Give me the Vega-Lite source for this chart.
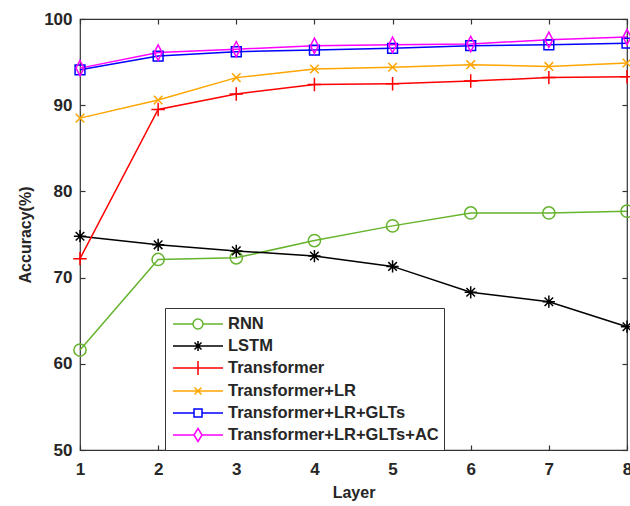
{
  "$schema": "https://vega.github.io/schema/vega-lite/v6.json",
  "width": 547,
  "height": 431,
  "autosize": {"type": "none"},
  "padding": {"left": 80, "top": 19, "right": 3, "bottom": 56},
  "config": {
    "view": {"stroke": "#333333", "strokeWidth": 1.2},
    "font": "Liberation Sans",
    "axis": {
      "grid": false,
      "domain": false,
      "tickColor": "#333333",
      "tickWidth": 1.2,
      "labelFont": "Liberation Sans",
      "labelFontWeight": "bold",
      "labelFontSize": 17,
      "labelColor": "#262626",
      "titleFont": "Liberation Sans",
      "titleFontWeight": "bold",
      "titleFontSize": 16,
      "titleColor": "#262626"
    }
  },
  "data": {
    "values": [
      {"Layer": 1, "Model": "RNN", "Acc": 61.6},
      {"Layer": 2, "Model": "RNN", "Acc": 72.1},
      {"Layer": 3, "Model": "RNN", "Acc": 72.3},
      {"Layer": 4, "Model": "RNN", "Acc": 74.3},
      {"Layer": 5, "Model": "RNN", "Acc": 76.0},
      {"Layer": 6, "Model": "RNN", "Acc": 77.5},
      {"Layer": 7, "Model": "RNN", "Acc": 77.5},
      {"Layer": 8, "Model": "RNN", "Acc": 77.7},
      {"Layer": 1, "Model": "LSTM", "Acc": 74.8},
      {"Layer": 2, "Model": "LSTM", "Acc": 73.8},
      {"Layer": 3, "Model": "LSTM", "Acc": 73.1},
      {"Layer": 4, "Model": "LSTM", "Acc": 72.5},
      {"Layer": 5, "Model": "LSTM", "Acc": 71.3},
      {"Layer": 6, "Model": "LSTM", "Acc": 68.3},
      {"Layer": 7, "Model": "LSTM", "Acc": 67.2},
      {"Layer": 8, "Model": "LSTM", "Acc": 64.3},
      {"Layer": 1, "Model": "Transformer", "Acc": 72.2},
      {"Layer": 2, "Model": "Transformer", "Acc": 89.5},
      {"Layer": 3, "Model": "Transformer", "Acc": 91.3},
      {"Layer": 4, "Model": "Transformer", "Acc": 92.4},
      {"Layer": 5, "Model": "Transformer", "Acc": 92.5},
      {"Layer": 6, "Model": "Transformer", "Acc": 92.8},
      {"Layer": 7, "Model": "Transformer", "Acc": 93.2},
      {"Layer": 8, "Model": "Transformer", "Acc": 93.3},
      {"Layer": 1, "Model": "Transformer+LR", "Acc": 88.5},
      {"Layer": 2, "Model": "Transformer+LR", "Acc": 90.6},
      {"Layer": 3, "Model": "Transformer+LR", "Acc": 93.2},
      {"Layer": 4, "Model": "Transformer+LR", "Acc": 94.2},
      {"Layer": 5, "Model": "Transformer+LR", "Acc": 94.4},
      {"Layer": 6, "Model": "Transformer+LR", "Acc": 94.7},
      {"Layer": 7, "Model": "Transformer+LR", "Acc": 94.5},
      {"Layer": 8, "Model": "Transformer+LR", "Acc": 94.9},
      {"Layer": 1, "Model": "Transformer+LR+GLTs", "Acc": 94.1},
      {"Layer": 2, "Model": "Transformer+LR+GLTs", "Acc": 95.7},
      {"Layer": 3, "Model": "Transformer+LR+GLTs", "Acc": 96.2},
      {"Layer": 4, "Model": "Transformer+LR+GLTs", "Acc": 96.4},
      {"Layer": 5, "Model": "Transformer+LR+GLTs", "Acc": 96.6},
      {"Layer": 6, "Model": "Transformer+LR+GLTs", "Acc": 96.9},
      {"Layer": 7, "Model": "Transformer+LR+GLTs", "Acc": 97.0},
      {"Layer": 8, "Model": "Transformer+LR+GLTs", "Acc": 97.2},
      {"Layer": 1, "Model": "Transformer+LR+GLTs+AC", "Acc": 94.3},
      {"Layer": 2, "Model": "Transformer+LR+GLTs+AC", "Acc": 96.1},
      {"Layer": 3, "Model": "Transformer+LR+GLTs+AC", "Acc": 96.5},
      {"Layer": 4, "Model": "Transformer+LR+GLTs+AC", "Acc": 96.9},
      {"Layer": 5, "Model": "Transformer+LR+GLTs+AC", "Acc": 97.0},
      {"Layer": 6, "Model": "Transformer+LR+GLTs+AC", "Acc": 97.1},
      {"Layer": 7, "Model": "Transformer+LR+GLTs+AC", "Acc": 97.6},
      {"Layer": 8, "Model": "Transformer+LR+GLTs+AC", "Acc": 97.9}
    ]
  },
  "resolve": {"axis": {"x": "independent", "y": "independent"}},
  "layer": [
    {
      "mark": {"type": "line", "strokeWidth": 1.5, "clip": false},
      "encoding": {
        "x": {
          "field": "Layer", "type": "quantitative",
          "scale": {"domain": [1, 8], "nice": false, "zero": false},
          "axis": {"orient": "bottom", "values": [1, 2, 3, 4, 5, 6, 7, 8], "tickSize": -5, "labelPadding": 16, "title": "Layer", "titlePadding": 7, "labelFlush": false}
        },
        "y": {
          "field": "Acc", "type": "quantitative",
          "scale": {"domain": [50, 100], "nice": false, "zero": false},
          "axis": {"orient": "left", "values": [50, 60, 70, 80, 90, 100], "tickSize": -5, "labelPadding": 13, "title": "Accuracy(%)", "titlePadding": 10}
        },
        "color": {
          "field": "Model", "type": "nominal",
          "scale": {
            "domain": ["RNN", "LSTM", "Transformer", "Transformer+LR", "Transformer+LR+GLTs", "Transformer+LR+GLTs+AC"],
            "range": ["#66B32E", "#000000", "#FF0000", "#FFA500", "#0000FF", "#FF00FF"]
          },
          "legend": {
            "orient": "none",
            "legendX": 85,
            "legendY": 289,
            "title": null,
            "direction": "vertical",
            "symbolSize": 400,
            "symbolStrokeWidth": 1.5,
            "labelFont": "Liberation Sans",
            "labelFontWeight": "bold",
            "labelFontSize": 16.5,
            "labelColor": "#262626",
            "labelOffset": 36,
            "labelLimit": 400,
            "rowPadding": 2,
            "padding": 5,
            "strokeColor": "#333333",
            "fillColor": "#FFFFFF",
            "encode": {
              "symbols": {
                "update": {
                  "fill": {"value": "transparent"},
                  "strokeWidth": {"value": 1.5},
                  "shape": {"signal": "datum.value === 'RNN' ? 'M-0.8,0L1.2,0M2.2,0L4.2,0M2.2,0A0.5,0.5 0 1,1 1.2,0A0.5,0.5 0 1,1 2.2,0' : datum.value === 'LSTM' ? 'M-0.8,0L4.2,0M1.7,-0.5L1.7,0.5M1.35,-0.35L2.05,0.35M1.35,0.35L2.05,-0.35' : datum.value === 'Transformer' ? 'M-0.8,0L4.2,0M1.7,-0.7L1.7,0.7' : datum.value === 'Transformer+LR' ? 'M-0.8,0L4.2,0M1.35,-0.35L2.05,0.35M1.35,0.35L2.05,-0.35' : datum.value === 'Transformer+LR+GLTs' ? 'M-0.8,0L1.3,0M2.1,0L4.2,0M1.3,-0.4L2.1,-0.4L2.1,0.4L1.3,0.4Z' : 'M-0.8,0L1.3,0M2.1,0L4.2,0M1.7,-0.65L2.1,0L1.7,0.65L1.3,0Z'"}
                }
              }
            }
          }
        }
      }
    },
    {
      "mark": {"type": "point", "filled": false, "strokeWidth": 1.5, "size": 150, "opacity": 1, "clip": false},
      "encoding": {
        "x": {
          "field": "Layer", "type": "quantitative",
          "axis": {"orient": "top", "values": [1, 2, 3, 4, 5, 6, 7, 8], "tickSize": -5, "labels": false, "title": null}
        },
        "y": {
          "field": "Acc", "type": "quantitative",
          "axis": {"orient": "right", "values": [50, 60, 70, 80, 90, 100], "tickSize": -5, "labels": false, "title": null}
        },
        "color": {"field": "Model", "type": "nominal", "legend": null},
        "shape": {
          "condition": [
            {"test": "datum.Model === 'RNN'", "value": "circle"},
            {"test": "datum.Model === 'LSTM'", "value": "M0,-1L0,1M-1,0L1,0M-0.7,-0.7L0.7,0.7M-0.7,0.7L0.7,-0.7"},
            {"test": "datum.Model === 'Transformer'", "value": "M0,-1.1L0,1.1M-1.1,0L1.1,0"},
            {"test": "datum.Model === 'Transformer+LR'", "value": "M-0.7,-0.7L0.7,0.7M-0.7,0.7L0.7,-0.7"},
            {"test": "datum.Model === 'Transformer+LR+GLTs'", "value": "M-0.8,-0.8L0.8,-0.8L0.8,0.8L-0.8,0.8Z"}
          ],
          "value": "M0,-1.25L0.65,0L0,1.25L-0.65,0Z"
        }
      }
    }
  ]
}
